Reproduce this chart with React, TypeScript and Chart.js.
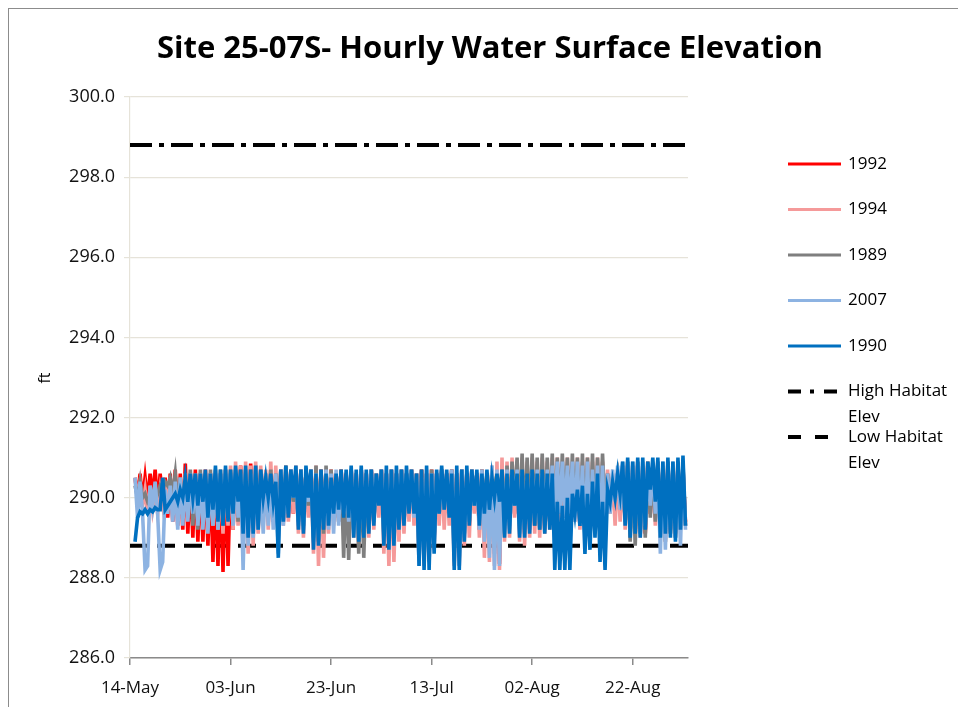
import { useEffect, useRef } from "react";
import { Chart, registerables } from "chart.js";
Chart.register(...registerables);

const TITLE = "Site 25-07S- Hourly Water Surface Elevation";
const Y_TITLE = "ft";
const X_TICK_DAYS = [0, 20, 40, 60, 80, 100];
const X_TICK_LABELS = ["14-May", "03-Jun", "23-Jun", "13-Jul", "02-Aug", "22-Aug"];
const X_MIN = 0;
const X_MAX = 111;
const Y_MIN = 286;
const Y_MAX = 300;
const Y_STEP = 2;
const FIRST_DAY = 1;
const STEP_DAYS = 0.5;
const HIGH_HABITAT = 298.8;
const LOW_HABITAT = 288.8;

// 1990 (dark blue)
const s1990 = [
  288.9,289.5, 289.65,289.6, 289.7,289.6, 289.7,289.65, 289.75,289.7, 289.7,290.5, 289.7,289.8, 289.9,290.0, 290.1,289.9, 290.2,290.0,
  290.5,289.9, 290.6,290.0, 290.6,289.8, 290.6,289.9, 290.7,289.5, 290.6,289.7, 290.8,289.4, 290.7,289.3, 290.8,289.4, 290.7,289.6,
  290.8,289.9, 290.7,289.1, 290.8,289.0, 290.7,289.1, 290.8,289.2, 290.7,290.0, 290.5,290.0, 290.6,289.9, 290.4,288.5, 290.7,289.4,
  290.8,289.5, 290.7,290.0, 290.8,289.2, 290.7,289.1, 290.8,290.0, 290.7,288.7, 290.6,288.8, 290.7,289.2, 290.6,289.3, 290.5,289.6,
  290.6,289.7, 290.7,289.5, 290.7,289.5, 290.8,289.0, 290.7,288.9, 290.8,289.0, 290.7,289.1, 290.7,289.3, 290.6,289.8, 290.7,288.8,
  290.8,288.7, 290.7,288.8, 290.8,289.2, 290.7,289.3, 290.8,289.6, 290.7,289.6, 290.6,288.3, 290.7,288.2, 290.8,288.2, 290.6,288.6,
  290.7,289.6, 290.8,289.7, 290.7,289.5, 290.6,288.2, 290.8,288.2, 290.7,288.9, 290.8,289.3, 290.7,289.8, 290.7,289.3, 290.6,289.6,
  290.7,289.7, 290.5,290.0, 290.6,289.9, 290.7,289.0, 290.6,289.1, 290.7,289.8, 290.6,289.0, 290.7,289.0, 290.6,289.1, 290.7,289.3,
  290.6,289.2, 290.7,289.1, 290.6,289.2, 290.6,288.2, 289.9,288.2, 289.8,288.2, 290.0,288.2, 290.1,289.6, 290.2,289.3, 290.3,288.6,
  290.1,288.7, 290.4,289.0, 290.6,288.4, 289.9,288.2, 290.2,289.9, 290.4,290.0, 290.6,290.1, 290.9,289.3, 291.0,289.0, 290.9,289.1,
  291.0,289.0, 291.0,289.2, 290.9,290.2, 291.0,289.9, 291.0,289.0, 290.9,289.1, 291.0,289.0, 290.9,288.9, 291.0,289.2, 291.05,289.3,
];

// 2007 (light blue)
const s2007 = [
  290.5,289.5, 290.4,289.6, 288.2,288.3, 290.3,289.8, 290.4,289.6, 288.2,288.4, 290.2,289.6, 290.3,289.4, 290.4,289.2, 290.5,289.3,
  290.5,289.4, 290.6,289.6, 290.5,289.3, 290.6,289.2, 290.5,289.1, 290.6,289.3, 290.7,289.2, 290.6,289.4, 290.7,289.5, 290.6,289.3,
  290.7,289.5, 290.6,288.2, 290.7,288.8, 290.6,289.0, 290.7,289.2, 290.5,289.1, 290.6,289.3, 290.5,289.2, 290.6,288.6, 290.7,289.3,
  290.6,289.6, 290.7,290.0, 290.6,289.3, 290.7,289.2, 290.6,289.9, 290.7,288.9, 290.6,289.0, 290.5,289.3, 290.7,289.2, 290.6,289.1,
  290.7,289.3, 290.6,289.6, 290.5,289.4, 290.7,289.1, 290.6,289.0, 290.7,289.2, 290.6,289.3, 290.7,289.4, 290.6,289.9, 290.7,289.0,
  290.6,288.8, 290.7,288.9, 290.6,289.3, 290.7,289.4, 290.6,289.7, 290.7,289.5, 290.6,288.3, 290.5,288.5, 290.7,288.4, 290.6,288.8,
  290.6,289.6, 290.7,289.7, 290.6,289.6, 290.7,288.4, 290.6,288.3, 290.7,289.0, 290.6,289.4, 290.7,289.8, 290.6,289.2, 290.7,288.9,
  290.6,288.5, 290.8,288.2, 290.7,288.3, 290.6,289.1, 290.7,289.2, 290.6,289.8, 290.7,289.1, 290.6,289.2, 290.5,289.3, 290.6,289.4,
  290.7,289.3, 290.6,289.4, 290.7,289.5, 290.8,289.6, 290.9,289.6, 290.9,289.5, 290.8,289.6, 290.9,289.4, 290.9,289.3, 290.8,289.0,
  290.9,289.1, 290.7,289.3, 290.8,289.2, 290.8,288.8, 290.6,289.6, 290.7,289.9, 290.8,289.7, 290.9,289.4, 290.8,289.2, 290.9,289.3,
  290.8,289.1, 290.9,289.3, 290.8,289.8, 290.9,289.6, 290.8,288.6, 290.9,288.7, 290.8,289.2, 290.9,289.0, 290.8,288.8, 290.9,289.2,
];

// 1989 (gray)
const s1989 = [
  290.3,290.0, 290.4,290.0, 290.1,289.9, 290.0,290.1, 290.2,290.1, 290.3,290.2, 290.4,290.3, 290.5,290.1, 290.6,289.8, 290.5,289.6,
  290.6,289.5, 290.7,289.3, 290.6,289.2, 290.7,289.4, 290.6,289.3, 290.7,289.5, 290.6,289.4, 290.7,289.3, 290.6,289.5, 290.7,289.6,
  290.6,289.4, 290.7,289.2, 290.6,289.3, 290.7,289.4, 290.6,289.3, 290.7,289.5, 290.6,289.6, 290.7,289.4, 290.6,289.2, 290.7,289.5,
  290.8,289.6, 290.7,289.9, 290.6,289.4, 290.7,289.3, 290.6,289.8, 290.7,289.0, 290.8,288.9, 290.7,289.1, 290.8,289.3, 290.7,289.6,
  290.6,289.4, 290.7,288.5, 290.6,288.45, 290.7,289.2, 290.6,288.6, 290.7,288.5, 290.6,289.2, 290.7,289.4, 290.6,289.9, 290.7,289.1,
  290.6,289.0, 290.7,289.1, 290.6,289.4, 290.7,289.5, 290.6,289.7, 290.7,289.6, 290.6,288.6, 290.7,288.5, 290.6,288.6, 290.7,289.0,
  290.6,289.6, 290.7,289.7, 290.6,289.6, 290.7,288.6, 290.6,288.5, 290.7,289.1, 290.6,289.4, 290.7,289.8, 290.6,289.5, 290.7,289.6,
  290.6,289.6, 290.7,289.9, 290.6,289.8, 290.7,289.3, 290.8,289.4, 290.9,289.8, 291.0,289.3, 291.1,289.2, 291.0,289.4, 291.1,289.3,
  291.0,289.2, 291.1,289.3, 291.0,289.4, 291.1,289.2, 291.0,289.6, 291.1,289.7, 291.0,289.5, 291.1,289.6, 291.0,289.3, 291.1,289.2,
  291.0,289.1, 291.1,289.3, 291.0,289.5, 291.1,289.6, 290.6,289.9, 290.5,290.3, 290.6,289.8, 290.8,289.4, 290.9,288.9, 290.8,288.8,
  290.9,289.1, 290.8,289.0, 290.9,289.5, 290.8,289.4, 290.9,289.0, 290.8,288.9, 290.9,289.1, 290.8,289.0, 290.9,289.2, 290.8,289.3,
];

// 1994 (pink)
const s1994 = [
  290.5,290.0, 290.4,289.8, 290.2,289.6, 290.3,289.7, 290.1,289.6, 290.2,289.8, 290.4,289.7, 290.5,289.9, 290.4,289.7, 290.5,289.6,
  290.6,289.7, 290.5,289.6, 290.6,289.8, 290.5,289.5, 290.7,289.4, 290.6,289.3, 290.7,289.2, 290.6,289.1, 290.7,289.3, 290.8,289.2,
  290.9,289.3, 290.8,288.7, 290.9,288.6, 290.8,288.8, 290.9,289.1, 290.8,289.3, 290.7,289.2, 290.9,289.4, 290.8,289.0, 290.7,289.3,
  290.8,289.4, 290.7,289.6, 290.8,289.1, 290.7,289.0, 290.6,289.5, 290.7,288.6, 290.8,288.3, 290.7,288.5, 290.6,289.1, 290.7,289.3,
  290.6,289.4, 290.7,289.2, 290.6,289.3, 290.7,289.0, 290.6,288.8, 290.7,288.9, 290.6,289.0, 290.7,289.2, 290.6,289.5, 290.7,288.6,
  290.6,288.3, 290.7,288.4, 290.6,288.9, 290.7,289.1, 290.6,289.4, 290.7,289.3, 290.6,288.4, 290.7,288.3, 290.6,288.4, 290.7,288.7,
  290.6,289.3, 290.7,289.2, 290.6,289.3, 290.7,288.3, 290.6,288.3, 290.7,288.8, 290.6,289.0, 290.7,289.6, 290.6,289.0, 290.7,288.5,
  290.6,288.4, 290.8,288.3, 290.9,288.2, 291.0,288.9, 290.9,289.0, 291.0,289.5, 290.9,288.9, 291.0,288.8, 290.9,289.0, 291.0,289.1,
  290.9,289.0, 291.0,289.1, 290.9,289.2, 291.0,289.0, 291.0,289.4, 290.9,289.5, 291.0,289.3, 290.9,289.4, 291.0,289.2, 290.9,289.1,
  291.0,289.0, 290.9,289.1, 291.0,289.3, 290.9,289.4, 290.7,289.6, 290.6,289.3, 290.7,289.4, 290.8,289.2, 290.9,289.0, 290.8,289.1,
  290.9,289.0, 290.8,289.2, 290.9,289.6, 290.8,289.3, 290.9,289.0, 290.8,288.9, 290.9,289.1, 290.8,289.0, 290.9,289.2, 290.8,289.3,
];

// 1992 (red)
const s1992 = [
  290.5,290.0, 290.6,289.9, 290.5,289.9, 290.6,290.0, 290.7,289.8, 290.6,289.9, 290.5,289.5, 290.6,289.4, 290.7,289.3, 290.6,289.2,
  290.85,289.1, 290.6,289.0, 290.7,288.9, 290.6,288.9, 290.7,288.8, 290.6,288.4, 290.5,288.3, 290.6,288.15, 290.7,288.3, 290.6,289.2,
  290.7,289.4, 290.8,289.3, 290.7,289.2, 290.85,289.3, 290.8,289.4, 290.7,289.5, 290.6,289.4, 290.7,289.5, 290.6,289.3, 290.7,289.4,
  290.6,289.5, 290.7,289.6, 290.6,289.4, 290.7,289.3, 290.6,289.7, 290.7,289.2, 290.6,289.1, 290.7,289.3, 290.6,289.4, 290.7,289.5,
  290.6,289.5, 290.7,289.3, 290.6,289.4, 290.7,289.2, 290.6,289.1, 290.7,289.2, 290.6,289.3, 290.7,289.4, 290.6,289.8, 290.7,289.2,
  290.6,289.0, 290.7,289.1, 290.6,289.3, 290.7,289.4, 290.6,289.6, 290.7,289.5, 290.6,288.8, 290.7,288.7, 290.6,288.8, 290.7,289.0,
  290.6,289.5, 290.7,289.6, 290.6,289.5, 290.7,288.8, 290.6,288.7, 290.7,289.1, 290.6,289.3, 290.7,289.7, 290.6,289.2, 290.7,289.0,
  290.6,288.9, 290.7,288.6, 290.6,288.35, 290.7,289.2, 290.6,289.3, 290.7,289.6, 290.6,289.2, 290.7,289.1, 290.6,289.2, 290.7,289.3,
  290.6,289.3, 290.7,289.2, 290.6,289.4, 290.7,289.5, 290.6,289.6, 290.7,289.5, 290.6,289.4, 290.7,289.5, 290.6,289.3, 290.7,289.2,
  290.6,289.2, 290.7,289.3, 290.6,289.4, 290.7,289.5, 290.6,289.7, 290.5,289.8, 290.6,289.6, 290.7,289.4, 290.8,289.2, 290.7,289.1,
  290.8,289.2, 290.7,289.1, 290.8,289.6, 290.7,289.5, 290.8,289.2, 290.7,289.1, 290.8,289.2, 290.7,289.1, 290.8,289.3, 290.7,289.4,
];

const SERIES_LABELS = ["1992", "1994", "1989", "2007", "1990"];
const SERIES_VALUES = [s1992, s1994, s1989, s2007, s1990];
const SERIES_COLORS = ["#FF0000", "#F59A9A", "#7F7F7F", "#8DB3E2", "#0070C0"];
const HABITAT_LABELS = [["High Habitat", "Elev"], ["Low Habitat", "Elev"]];
const HABITAT_VALUES = [HIGH_HABITAT, LOW_HABITAT];
const HABITAT_DASH = [[22, 7, 5, 7], [18, 9]];
const HABITAT_LEGEND_DASH = [[13, 9, 4, 10, 13], [13, 14]];

const FONT = "'Open Sans', 'DejaVu Sans', sans-serif";
const W = 957;
const H = 698;

const decorPlugin = {
  id: "decor",
  afterDraw(chart: any) {
    const ctx = chart.ctx as CanvasRenderingContext2D;
    ctx.save();
    ctx.fillStyle = "#000";
    ctx.textAlign = "center";
    ctx.textBaseline = "middle";
    ctx.font = `bold 31px ${FONT}`;
    ctx.fillText(TITLE, 481, 40);

    ctx.save();
    ctx.translate(36, 369);
    ctx.rotate(-Math.PI / 2);
    ctx.font = `16px ${FONT}`;
    ctx.fillText(Y_TITLE, 0, 0);
    ctx.restore();

    const lx0 = 779;
    const lx1 = 832;
    const tx = 839;
    const y0 = 155;
    const dy = 45.5;
    ctx.textAlign = "left";
    ctx.font = `17px ${FONT}`;
    ctx.lineCap = "butt";
    SERIES_LABELS.forEach((lab, i) => {
      const y = y0 + i * dy;
      ctx.strokeStyle = SERIES_COLORS[i];
      ctx.lineWidth = 3;
      ctx.setLineDash([]);
      ctx.beginPath();
      ctx.moveTo(lx0, y);
      ctx.lineTo(lx1, y);
      ctx.stroke();
      ctx.fillStyle = "#000";
      ctx.fillText(lab, tx, y);
    });
    HABITAT_LABELS.forEach((lines, j) => {
      const y = y0 + (SERIES_LABELS.length + j) * dy;
      ctx.strokeStyle = "#000";
      ctx.lineWidth = 4;
      ctx.setLineDash(HABITAT_LEGEND_DASH[j]);
      ctx.beginPath();
      ctx.moveTo(lx0, y);
      ctx.lineTo(lx1, y);
      ctx.stroke();
      ctx.setLineDash([]);
      ctx.fillStyle = "#000";
      lines.forEach((t, k) => ctx.fillText(t, tx, y + k * 26));
    });
    ctx.restore();
  },
};

export default function App() {
  const ref = useRef<HTMLCanvasElement | null>(null);
  useEffect(() => {
    document.body.style.overflow = "hidden";
    const canvas = ref.current;
    if (!canvas) return;
    const toPoints = (vals: number[]) =>
      vals.map((v, i) => ({ x: FIRST_DAY + i * STEP_DAYS, y: v }));
    const order = [4, 3, 2, 1, 0]; // 1990 first so it is drawn on top
    const seriesSets = order.map((k) => ({
      label: SERIES_LABELS[k],
      data: toPoints(SERIES_VALUES[k]),
      borderColor: SERIES_COLORS[k],
      backgroundColor: SERIES_COLORS[k],
      borderWidth: 3.6,
      pointRadius: 0,
      tension: 0,
      fill: false,
    }));
    const habitatSets = HABITAT_VALUES.map((v, j) => ({
      label: HABITAT_LABELS[j].join(" "),
      data: [
        { x: X_MIN, y: v },
        { x: X_MAX, y: v },
      ],
      borderColor: "#000",
      borderWidth: 4,
      borderDash: HABITAT_DASH[j],
      pointRadius: 0,
      fill: false,
    }));
    const chart = new Chart(canvas, {
      type: "line",
      data: { datasets: [...seriesSets, ...habitatSets] as any },
      options: {
        responsive: false,
        animation: false,
        events: [],
        layout: { padding: { left: 0, right: 278, top: 88, bottom: 0 } },
        plugins: { legend: { display: false }, tooltip: { enabled: false }, title: { display: false } },
        scales: {
          x: {
            type: "linear",
            min: X_MIN,
            max: X_MAX,
            afterBuildTicks: (scale: any) => {
              scale.ticks = X_TICK_DAYS.map((v) => ({ value: v }));
            },
            afterFit: (scale: any) => {
              scale.height = H - 649;
            },
            ticks: {
              autoSkip: false,
              maxRotation: 0,
              padding: 13,
              color: "#111",
              font: { family: FONT, size: 17 },
              callback: (v: any) => {
                const i = X_TICK_DAYS.indexOf(Number(v));
                return i >= 0 ? X_TICK_LABELS[i] : "";
              },
            },
            grid: { drawOnChartArea: false, drawTicks: true, tickLength: 7, color: "#8a8a8a", lineWidth: 1.5 },
            border: { color: "#8a8a8a", width: 1.5 },
          },
          y: {
            type: "linear",
            min: Y_MIN,
            max: Y_MAX,
            afterFit: (scale: any) => {
              scale.width = 121;
            },
            ticks: {
              stepSize: Y_STEP,
              padding: 9,
              color: "#111",
              font: { family: FONT, size: 18 },
              callback: (v: any) => Number(v).toFixed(1),
            },
            grid: { color: "#E6E3D9", lineWidth: 1.2, tickLength: 6 },
            border: { color: "#E6E3D9", width: 1.2 },
          },
        },
      },
      plugins: [decorPlugin],
    });
    return () => chart.destroy();
  }, []);
  return (
    <div style={{ borderLeft: "1px solid #8c8c8c", borderTop: "1px solid #8c8c8c", width: W + 20, height: H + 20, background: "#fff" }}>
      <canvas ref={ref} width={W} height={H} style={{ display: "block", width: W, height: H }} />
    </div>
  );
}
